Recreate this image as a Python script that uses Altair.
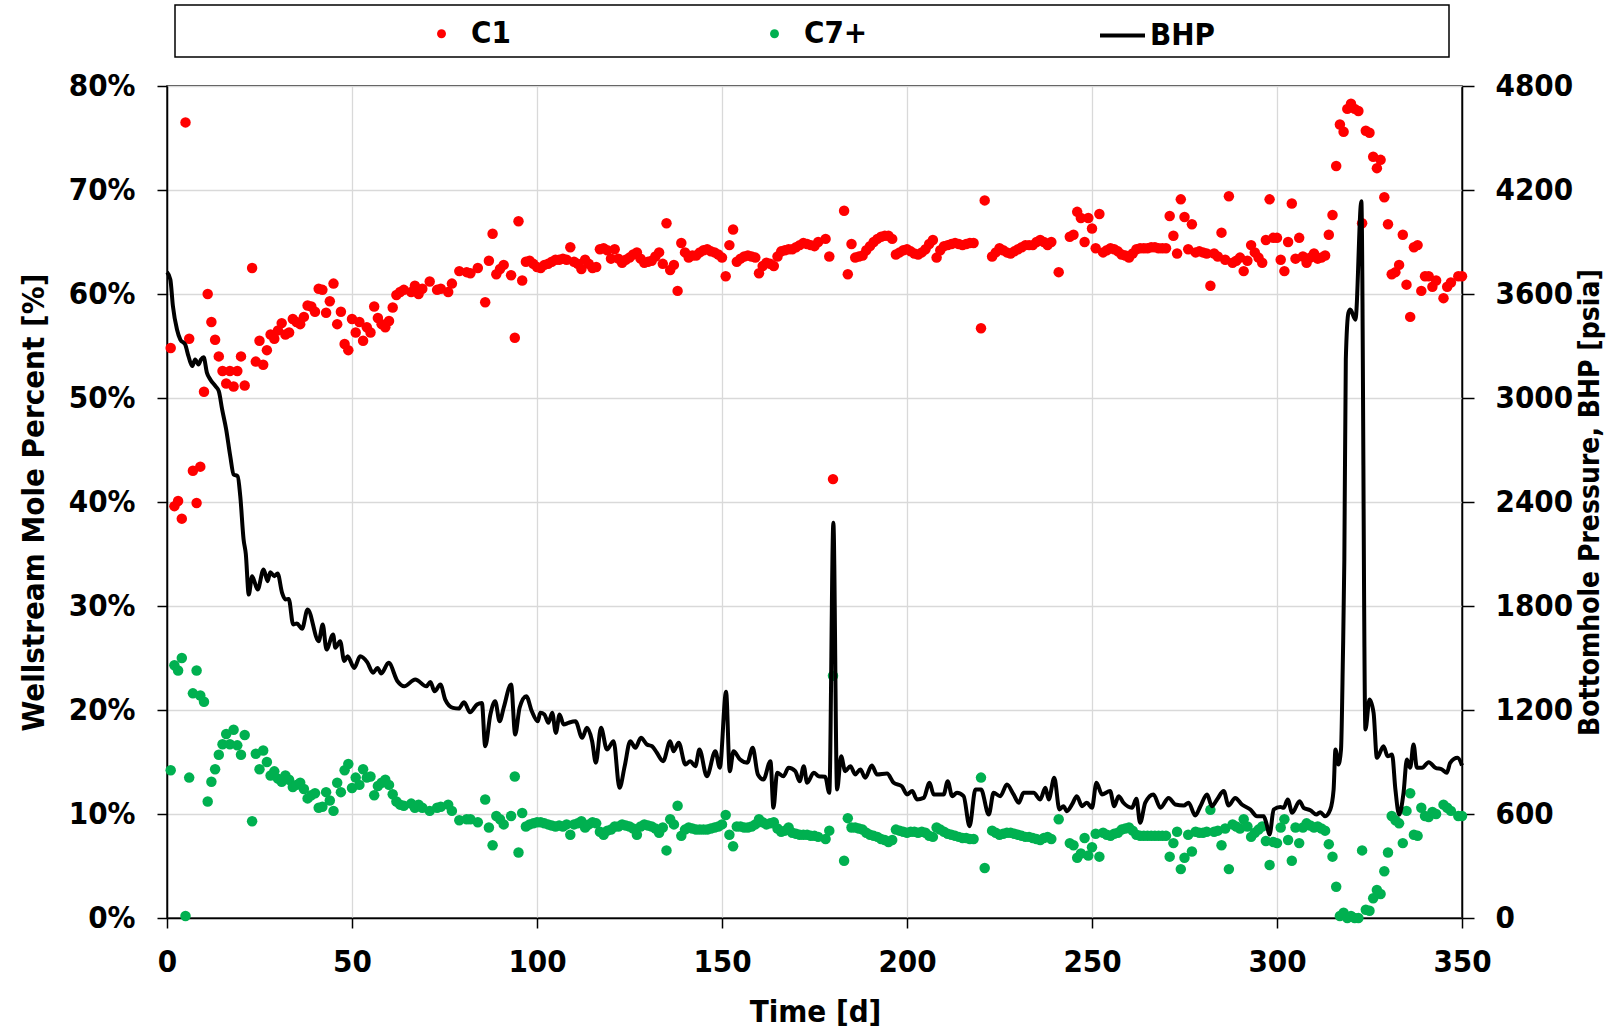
import altair as alt
import pandas as pd

# ---------------- data ----------------
sample_day = [
    1, 2, 3, 4, 5, 6, 7, 8, 9, 10,
    11, 12, 13, 14, 15, 16, 17, 18, 19, 20,
    21, 23, 24, 25, 26, 27, 28, 29, 30, 31,
    32, 33, 34, 35, 36, 37, 38, 39, 40, 41,
    42, 43, 44, 45, 46, 47, 48, 49, 50, 51,
    52, 53, 54, 55, 56, 57, 58, 59, 60, 61,
    62, 63, 64, 66, 67, 68, 69, 71, 73, 74,
    76, 77, 79, 81, 82, 84, 86, 87, 88, 89,
    90, 91, 93, 94, 95, 96, 97, 98, 101, 103,
    105, 108, 109, 110, 112, 113, 115, 118, 120, 121,
    123, 125, 127, 129, 131, 133, 134, 135, 136, 137,
    138, 139, 141, 143, 146, 148, 150, 151, 152, 153,
    154, 157, 159, 160, 162, 164, 166, 168, 169, 172,
    175, 178, 179, 180, 183, 184, 185, 186, 188, 190,
    192, 195, 196, 197, 200, 203, 205, 207, 208, 210,
    213, 215, 218, 220, 221, 223, 225, 228, 230, 232,
    234, 236, 238, 239, 241, 244, 245, 246, 247, 248,
    249, 250, 251, 252, 253, 255, 257, 258, 260, 262,
    264, 267, 269, 270, 271, 272, 273, 274, 275, 276,
    277, 278, 280, 282, 283, 284, 285, 286, 287, 288,
    290, 291, 292, 293, 294, 296, 297, 298, 299, 300,
    301, 302, 303, 304, 305, 306, 307, 308, 310, 311,
    313, 314, 315, 316, 317, 318, 319, 320, 321, 322,
    323, 324, 325, 326, 327, 328, 329, 330, 331, 332,
    333, 334, 335, 336, 337, 338, 339, 340, 341, 342,
    343, 345, 346, 347, 349, 350,
]

c1_pct = [
    54.8, 39.6, 40.1, 38.4, 76.5, 55.7, 43.0, 39.9, 43.4, 50.6,
    60.0, 57.3, 55.6, 54.0, 52.6, 51.4, 52.6, 51.1, 52.6, 54.0,
    51.2, 62.5, 53.5, 55.5, 53.2, 54.6, 56.1, 55.7, 56.5, 57.2,
    56.1, 56.3, 57.6, 57.3, 57.1, 57.8, 58.9, 58.8, 58.3, 60.5,
    60.4, 58.2, 59.3, 61.0, 57.1, 58.3, 55.2, 54.6, 57.6, 56.3,
    57.3, 55.5, 56.8, 56.3, 58.8, 57.7, 57.1, 56.8, 57.4, 58.7,
    59.9, 60.2, 60.4, 60.2, 60.8, 60.0, 60.5, 61.2, 60.4, 60.5,
    60.2, 61.0, 62.2, 62.1, 62.0, 62.5, 59.2, 63.2, 65.8, 61.9,
    62.4, 62.8, 61.8, 55.8, 67.0, 61.3, 63.1, 63.2, 62.5, 62.9,
    63.3, 63.3, 64.5, 63.1, 62.4, 63.3, 62.5, 64.4, 63.4, 64.3,
    63.0, 63.5, 64.0, 63.0, 63.2, 64.0, 62.9, 66.8, 62.3, 62.8,
    60.3, 64.9, 63.5, 63.7, 64.3, 64.0, 63.5, 61.7, 64.7, 66.2,
    63.1, 63.7, 63.5, 62.0, 63.0, 62.7, 64.1, 64.3, 64.3, 64.9,
    64.6, 65.3, 63.6, 42.2, 68.0, 61.9, 64.8, 63.5, 63.7, 64.6,
    65.3, 65.6, 65.3, 63.8, 64.3, 63.8, 64.3, 65.2, 63.5, 64.6,
    64.9, 64.7, 64.9, 56.7, 69.0, 63.6, 64.4, 63.9, 64.3, 64.7,
    64.7, 65.2, 64.7, 65.0, 62.1, 65.5, 65.7, 67.9, 67.3, 65.0,
    67.3, 66.3, 64.4, 67.7, 64.0, 64.4, 64.1, 63.8, 63.5, 64.3,
    64.4, 64.5, 64.4, 64.4, 67.5, 65.6, 63.9, 69.1, 67.4, 64.3,
    66.7, 64.0, 64.0, 60.8, 63.9, 63.6, 65.9, 63.3, 69.4, 63.0,
    63.5, 62.2, 63.2, 64.7, 64.0, 63.0, 65.2, 69.1, 65.4, 65.4,
    63.3, 62.2, 65.0, 68.7, 63.4, 65.4, 63.6, 63.0, 63.9, 63.4,
    63.7, 65.7, 67.6, 72.3, 76.3, 75.6, 77.8, 78.3, 77.8, 77.6,
    66.8, 75.7, 75.5, 73.2, 72.1, 72.9, 69.3, 66.7, 61.9, 62.1,
    62.8, 65.7, 60.9, 57.8, 64.5, 64.7, 60.3, 61.7, 61.7, 60.7,
    61.3, 59.6, 60.7, 61.1, 61.7, 61.7,
]

c7_pct = [
    14.2, 24.3, 23.8, 25.0, 0.2, 13.5, 21.6, 23.8, 21.4, 20.8,
    11.2, 13.1, 14.3, 15.7, 16.7, 17.7, 16.7, 18.1, 16.6, 15.7,
    17.6, 9.3, 15.8, 14.3, 16.1, 15.0, 13.7, 14.1, 13.4, 13.1,
    13.7, 13.3, 12.6, 12.8, 13.0, 12.4, 11.5, 11.8, 12.0, 10.6,
    10.7, 12.1, 11.3, 10.3, 13.0, 12.1, 14.2, 14.8, 12.5, 13.5,
    12.8, 14.3, 13.5, 13.6, 11.8, 12.7, 13.0, 13.3, 12.8, 11.9,
    11.2, 10.9, 10.8, 11.0, 10.6, 10.9, 10.6, 10.3, 10.6, 10.7,
    10.9, 10.3, 9.4, 9.5, 9.5, 9.2, 11.4, 8.7, 7.0, 9.8,
    9.5, 9.0, 9.8, 13.6, 6.3, 10.1, 8.8, 9.0, 9.2, 9.0,
    8.8, 9.0, 8.0, 9.0, 9.3, 8.7, 9.2, 8.0, 8.5, 8.8,
    9.0, 8.8, 8.0, 9.0, 8.8, 8.2, 8.7, 6.5, 9.5, 9.0,
    10.8, 7.9, 8.7, 8.5, 8.5, 8.7, 9.0, 9.9, 8.0, 6.9,
    8.8, 8.7, 9.0, 9.5, 9.0, 9.2, 8.3, 8.7, 8.2, 8.0,
    7.9, 7.6, 8.4, 23.3, 5.5, 9.6, 8.7, 8.7, 8.5, 8.0,
    7.8, 7.3, 7.5, 8.5, 8.2, 8.2, 8.2, 7.8, 8.7, 8.3,
    7.9, 7.7, 7.6, 13.5, 4.8, 8.4, 8.0, 8.2, 8.0, 7.8,
    7.7, 7.5, 7.8, 7.6, 9.5, 7.2, 7.0, 5.8, 6.2, 7.7,
    6.0, 6.8, 8.1, 5.9, 8.2, 7.9, 8.2, 8.5, 8.7, 8.0,
    7.9, 7.9, 7.9, 7.9, 5.9, 7.2, 8.3, 4.7, 5.8, 8.0,
    6.4, 8.3, 8.2, 10.4, 8.3, 8.4, 7.0, 8.6, 4.7, 9.0,
    8.6, 9.5, 8.8, 7.8, 8.2, 8.8, 7.4, 5.1, 7.3, 7.2,
    8.7, 9.5, 7.5, 5.5, 8.7, 7.2, 8.7, 9.1, 8.7, 8.8,
    8.4, 7.1, 5.9, 3.0, 0.2, 0.5, 0.0, 0.2, 0.0, 0.0,
    6.5, 0.8, 0.7, 1.9, 2.7, 2.3, 4.5, 6.3, 9.8, 9.4,
    9.1, 7.2, 10.3, 12.0, 8.0, 7.9, 10.6, 9.8, 9.7, 10.2,
    10.0, 10.9, 10.6, 10.3, 9.8, 9.8,
]

band_day = [
    99, 100, 102, 104, 106, 107, 111, 114, 116, 117,
    119, 122, 124, 126, 128, 130, 132, 140, 142, 144,
    145, 147, 149, 155, 156, 158, 161, 163, 165, 167,
    170, 171, 173, 174, 176, 187, 189, 191, 193, 194,
    198, 199, 201, 202, 204, 206, 209, 211, 212, 214,
    216, 217, 224, 226, 227, 229, 231, 233, 235, 237,
    254, 256, 259, 261, 263, 265, 266, 268, 279, 281,
    289, 295, 309, 312,
]
band_c1 = [
    62.9, 62.6, 62.8, 63.1, 63.3, 63.4, 62.9, 62.9, 62.6, 64.3,
    64.2, 63.4, 63.3, 63.8, 63.4, 63.1, 63.6, 64.0, 63.7, 64.0,
    64.2, 64.1, 63.8, 63.4, 63.6, 63.6, 62.7, 62.9, 63.6, 64.2,
    64.5, 64.7, 64.8, 64.7, 65.0, 63.6, 64.2, 65.0, 65.5, 65.6,
    64.0, 64.2, 64.1, 63.9, 64.0, 64.8, 64.2, 64.7, 64.8, 64.8,
    64.8, 64.9, 64.0, 64.2, 64.0, 64.1, 64.5, 64.7, 65.0, 65.0,
    64.2, 64.3, 63.7, 63.9, 64.4, 64.4, 64.5, 64.4, 64.1, 63.9,
    63.2, 63.5, 63.5, 63.5,
]
band_c7 = [
    9.1, 9.2, 9.1, 8.9, 8.9, 8.8, 9.1, 9.0, 9.1, 8.3,
    8.4, 8.8, 8.9, 8.6, 8.8, 8.9, 8.6, 8.5, 8.6, 8.5,
    8.5, 8.6, 8.8, 8.8, 8.7, 8.8, 9.2, 9.1, 8.6, 8.4,
    8.1, 8.0, 8.0, 7.9, 7.8, 8.6, 8.2, 7.9, 7.6, 7.5,
    8.4, 8.3, 8.3, 8.3, 8.3, 7.9, 8.5, 8.1, 8.0, 7.8,
    7.7, 7.6, 8.2, 8.1, 8.2, 8.1, 7.9, 7.8, 7.6, 7.7,
    8.0, 8.1, 8.6, 8.4, 7.9, 7.9, 7.9, 7.9, 8.2, 8.3,
    8.8, 8.5, 8.9, 8.6,
]

bhp_day = [
    0, 0.9, 1.6, 2.7, 3.6, 4.9, 5.8, 6.8, 7.6, 8.5,
    9.2, 9.9, 10.8, 11.7, 13.1, 14.0, 14.9, 16.0, 17.1, 18.0,
    19.1, 19.8, 20.7, 21.3, 22.1, 23.0, 24.5, 26.1, 27.2, 27.9,
    29.0, 29.9, 31.1, 32.0, 32.9, 34.1, 35.1, 36.5, 38.0, 41.0,
    42.1, 43.1, 44.9, 45.5, 46.8, 47.9, 48.8, 50.6, 52.2, 54.1,
    55.7, 56.9, 57.9, 59.9, 62.3, 64.1, 67.1, 70.1, 71.2, 72.3,
    73.9, 75.2, 77.3, 78.8, 80.3, 81.9, 83.8, 85.1, 86.0, 87.4,
    88.7, 89.9, 91.0, 93.0, 94.1, 95.3, 97.1, 98.6, 100.2, 100.9,
    102.0, 103.1, 104.1, 105.1, 106.1, 107.2, 108.5, 110.4, 112.2, 113.5,
    114.9, 115.9, 117.3, 118.9, 120.7, 122.3, 123.7, 125.2, 126.6, 128.1,
    129.7, 131.1, 132.4, 134.1, 136.0, 136.9, 138.3, 140.1, 141.4, 142.8,
    143.9, 145.9, 148.2, 149.4, 151.1, 152.1, 153.1, 154.9, 156.8, 158.3,
    159.7, 161.2, 163.1, 163.9, 164.9, 166.6, 168.0, 169.8, 171.0, 172.1,
    173.0, 174.8, 176.1, 177.9, 179.0, 180.1, 181.1, 182.2, 183.3, 184.7,
    186.0, 187.4, 188.7, 190.5, 191.9, 194.6, 196.4, 198.6, 200.0, 201.4,
    202.7, 204.5, 206.1, 207.2, 209.9, 211.0, 212.2, 213.5, 215.3, 216.9,
    218.5, 220.0, 222.1, 223.4, 225.2, 227.0, 228.8, 230.2, 231.5, 234.2,
    236.0, 237.4, 238.3, 239.8, 241.2, 242.3, 243.2, 244.6, 245.9, 247.3,
    248.6, 250.0, 251.2, 252.7, 254.9, 256.0, 257.2, 258.5, 260.8, 262.0,
    263.0, 264.4, 266.6, 268.5, 270.7, 272.5, 274.8, 276.1, 277.9, 279.3,
    281.1, 282.4, 283.8, 285.6, 286.9, 288.7, 290.5, 292.8, 294.6, 296.4,
    297.1, 298.0, 299.1, 300.9, 301.8, 302.9, 304.1, 306.1, 307.2, 309.0,
    310.6, 311.7, 313.0, 314.4, 315.3, 315.8, 316.6, 317.3, 317.8, 318.2,
    318.6, 319.3, 319.8, 321.2, 322.8, 323.9, 325.0, 326.1, 327.0, 328.8,
    329.9, 331.1, 332.0, 333.0, 334.2, 335.1, 336.0, 336.9, 337.8, 339.2,
    341.0, 342.8, 344.6, 345.9, 346.8, 348.8, 350.0,
]

bhp_psia = [
    3726, 3684, 3530, 3395, 3337, 3309, 3241, 3184, 3222, 3193,
    3222, 3235, 3145, 3107, 3068, 3039, 2934, 2818, 2664, 2559,
    2549, 2434, 2184, 2100, 1866, 1972, 1895, 2011, 1943, 1995,
    1972, 1988, 1876, 1838, 1841, 1693, 1699, 1669, 1780, 1597,
    1693, 1549, 1636, 1559, 1597, 1482, 1510, 1443, 1510, 1476,
    1415, 1443, 1411, 1472, 1366, 1337, 1376, 1337, 1362, 1308,
    1347, 1260, 1212, 1208, 1245, 1187, 1232, 1241, 991, 1174,
    1251, 1135, 1213, 1347, 1059, 1213, 1280, 1193, 1135, 1184,
    1174, 1126, 1184, 1068, 1174, 1116, 1126, 1135, 1040, 1097,
    1020, 895, 1097, 972, 1020, 751, 876, 1020, 982, 1040,
    1001, 991, 953, 905, 1020, 962, 1011, 886, 905, 876,
    972, 818, 962, 867, 1305, 847, 962, 914, 895, 982,
    828, 799, 905, 636, 838, 818, 867, 847, 789, 876,
    780, 838, 818, 815, 722, 2280, 741, 933, 847, 876,
    828, 857, 809, 880, 828, 834, 780, 760, 713, 732,
    684, 693, 780, 713, 713, 789, 703, 722, 703, 530,
    741, 741, 597, 722, 703, 770, 713, 665, 722, 722,
    684, 751, 684, 809, 626, 645, 616, 655, 703, 645,
    665, 636, 780, 713, 732, 645, 703, 665, 636, 688,
    549, 665, 713, 636, 693, 655, 649, 665, 591, 645,
    713, 645, 684, 732, 649, 693, 655, 626, 587, 587,
    549, 482, 626, 641, 636, 684, 607, 674, 636, 622,
    597, 610, 587, 626, 741, 972, 886, 972, 1491, 2068,
    3222, 3491, 3510, 3452, 4135, 1088, 1261, 1184, 924, 991,
    933, 943, 741, 597, 722, 914, 867, 1001, 867, 867,
    899, 867, 857, 838, 895, 924, 880,
]

x_ticks = [0, 50, 100, 150, 200, 250, 300, 350]
pct_ticks = [0, 10, 20, 30, 40, 50, 60, 70, 80]
psia_ticks = [0, 600, 1200, 1800, 2400, 3000, 3600, 4200, 4800]

assert len(sample_day) == len(c1_pct) == len(c7_pct)
assert len(band_day) == len(band_c1) == len(band_c7)
assert len(bhp_day) == len(bhp_psia)

# ---------------- tables ----------------
all_day = sample_day + band_day
all_c1 = c1_pct + band_c1
all_c7 = c7_pct + band_c7
n = len(all_day)
pts = pd.DataFrame({
    "day": all_day + all_day,
    "pct": all_c1 + all_c7,
    "series": ["C1"] * n + ["C7+"] * n,
})
bhp = pd.DataFrame({"day": bhp_day, "psia": bhp_psia, "series": ["BHP"] * len(bhp_day)})
frame_df = pd.DataFrame({"k": [0]})

FONT = "DejaVu Sans Condensed, Liberation Sans Narrow, sans-serif"
FS = 31

x_enc = alt.X(
    "day:Q",
    scale=alt.Scale(domain=[0, 350], nice=False, zero=False),
    axis=alt.Axis(
        values=x_ticks, format="d", title="Time [d]", grid=True,
        tickSize=10, labelPadding=19, labelOverlap=False, labelFlush=False,
        titleX=648, titleY=94, titleAlign="center", titleBaseline="middle",
    ),
)

frame = alt.Chart(frame_df).mark_rect(filled=False, stroke="black", strokeWidth=1.5).encode(
    x=alt.value(8), x2=alt.value(1282), y=alt.value(-81), y2=alt.value(-29)
)

points = alt.Chart(pts).mark_circle(size=110, opacity=1).encode(
    x=x_enc,
    y=alt.Y(
        "pct:Q",
        scale=alt.Scale(domain=[0, 80], nice=False, zero=True),
        axis=alt.Axis(
            orient="left", values=pct_ticks, labelExpr="datum.value + '%'",
            title="Wellstream Mole Percent [%]", grid=True, tickSize=10, labelPadding=22,
            titleAngle=270, titleX=-133, titleY=416, titleAlign="center", titleBaseline="middle",
        ),
    ),
    color=alt.Color(
        "series:N",
        scale=alt.Scale(domain=["C1", "C7+"], range=["#ff0000", "#00b050"]),
        legend=alt.Legend(
            orient="none", legendX=259, legendY=-68, direction="horizontal", title=None,
            symbolType="circle", symbolSize=80, labelOffset=14, columnPadding=248,
            padding=0,
        ),
    ),
)

line = alt.Chart(bhp).mark_line(strokeWidth=4, interpolate="monotone").encode(
    x=x_enc,
    y=alt.Y(
        "psia:Q",
        scale=alt.Scale(domain=[0, 4800], nice=False, zero=True),
        axis=alt.Axis(
            orient="right", values=psia_ticks, format="d",
            title="Bottomhole Pressure, BHP [psia]", grid=False, tickSize=12, labelPadding=21,
            labelAlign="left",
            titleAngle=270, titleX=128, titleY=416, titleAlign="center", titleBaseline="middle",
            titleFontSize=28,
        ),
    ),
    color=alt.Color(
        "series:N",
        scale=alt.Scale(domain=["BHP"], range=["#000000"]),
        legend=alt.Legend(
            orient="none", legendX=931, legendY=-75, title=None,
            symbolType="stroke", symbolSize=2025, symbolStrokeWidth=4,
            labelOffset=3, padding=0,
        ),
    ),
)

chart = (
    alt.layer(frame, points, line)
    .resolve_scale(y="independent", color="independent")
    .properties(
        width=1295, height=832,
        autosize=alt.AutoSizeParams(type="none"),
        padding={"left": 167, "top": 86, "right": 149, "bottom": 114},
        background="white",
    )
    .configure_view(stroke="black", strokeWidth=1.5)
    .configure_axis(
        labelFont=FONT, labelFontSize=FS, labelFontWeight="bold", labelColor="black",
        titleFont=FONT, titleFontSize=FS, titleFontWeight="bold", titleColor="black",
        domainColor="black", domainWidth=1.5, tickColor="black", tickWidth=1.5,
        gridColor="#d9d9d9", gridWidth=1.3,
    )
    .configure_axisRight(tickSize=12, labelPadding=21)
    .configure_legend(
        labelFont=FONT, labelFontSize=FS, labelFontWeight="bold", labelColor="black",
    )
)

chart.save("out.html", embed_options={"renderer": "svg", "actions": False})
